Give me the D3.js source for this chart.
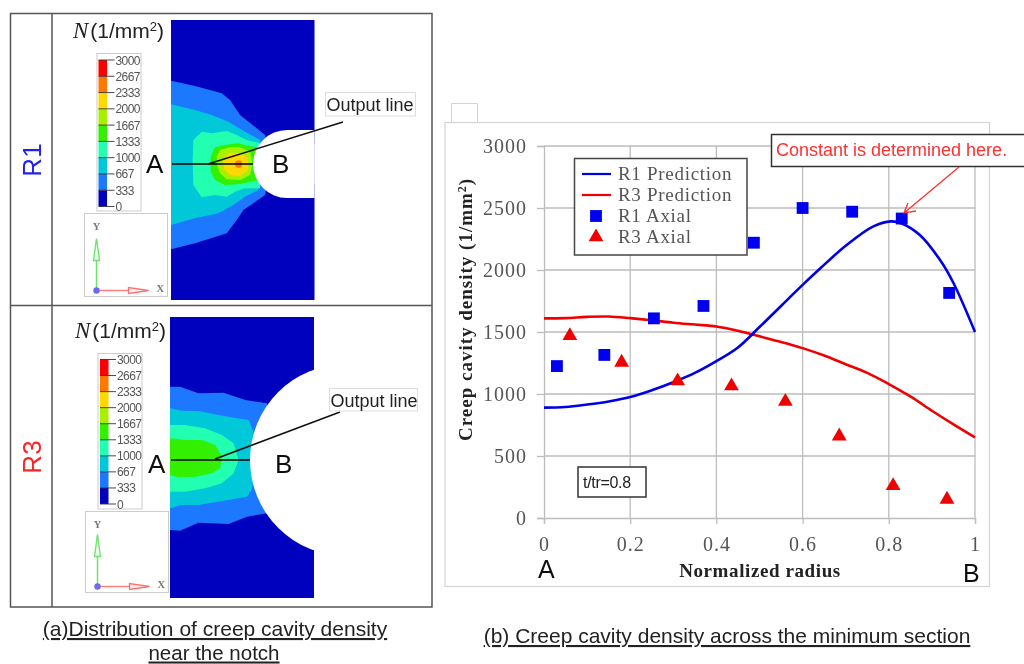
<!DOCTYPE html>
<html>
<head>
<meta charset="utf-8">
<script src="https://cdn.jsdelivr.net/npm/d3@7"></script>
<style>
  html, body { margin: 0; padding: 0; background: #fff; }
  svg { display: block; }
  text { font-family: "Liberation Sans", Arial, sans-serif; }
  .serif { font-family: "Liberation Serif", "Times New Roman", serif; }
</style>
</head>
<body>
<svg id="chart" width="1024" height="664"></svg>
<script>
// Line chart values
const radiusTicks = [0, 0.2, 0.4, 0.6, 0.8, 1];
const densityTicks = [0, 500, 1000, 1500, 2000, 2500, 3000];
const r1PredX = [0, 0.05, 0.1, 0.15, 0.2, 0.25, 0.3, 0.35, 0.4, 0.45, 0.5, 0.55, 0.6, 0.64, 0.7, 0.763, 0.805, 0.83, 0.872, 0.919, 0.95, 1];
const r1PredY = [890, 895, 915, 940, 975, 1030, 1095, 1170, 1265, 1375, 1540, 1710, 1880, 2010, 2195, 2350, 2392, 2375, 2282, 2080, 1895, 1500];
const r3PredX = [0, 0.05, 0.1, 0.15, 0.2, 0.25, 0.3, 0.35, 0.4, 0.45, 0.5, 0.55, 0.6, 0.65, 0.7, 0.75, 0.8, 0.85, 0.9, 0.95, 1];
const r3PredY = [1610, 1612, 1622, 1625, 1612, 1595, 1575, 1560, 1545, 1510, 1465, 1420, 1370, 1310, 1240, 1170, 1080, 980, 865, 755, 650];
const r1AxialX = [0.03, 0.14, 0.255, 0.37, 0.487, 0.6, 0.715, 0.83, 0.94];
const r1AxialY = [1225, 1315, 1610, 1710, 2220, 2500, 2470, 2415, 1815];
const r3AxialX = [0.06, 0.18, 0.31, 0.435, 0.56, 0.685, 0.81, 0.935];
const r3AxialY = [1470, 1255, 1105, 1065, 940, 660, 260, 150];
const legendNames = ["R1 Prediction", "R3 Prediction", "R1 Axial", "R3 Axial"];

// Contour colour key
const levelLabels = ["0", "333", "667", "1000", "1333", "1667", "2000", "2333", "2667", "3000"];
const levelValues = [0, 333, 667, 1000, 1333, 1667, 2000, 2333, 2667, 3000];
const bandColors = ["#0000bf", "#1a78ff", "#00c8d8", "#20ffb0", "#30f000", "#a8f000", "#ffd800", "#ff7800", "#ff0000"];

// Contour outlines in mesh units, one entry per band from 333 upwards
const r1Bands = [
  [[18,62],[90,78],[170,100],[195,120],[225,165],[300,225],[320,312],[300,405],[235,450],[215,480],[185,520],[90,550],[18,568]],
  [[18,133],[90,150],[140,165],[190,185],[240,215],[285,240],[300,312],[280,390],[240,410],[205,435],[160,460],[90,475],[18,495]],
  [[83,300],[85,240],[110,215],[140,220],[185,213],[215,225],[245,240],[285,250],[290,312],[285,385],[240,385],[210,395],[185,410],[150,405],[110,412],[85,375]],
  [[137,312],[137,290],[150,262],[180,255],[220,250],[250,258],[280,262],[280,360],[225,372],[180,375],[150,360],[137,335]],
  [[155,312],[155,290],[165,270],[195,262],[225,262],[255,275],[262,312],[255,345],[225,360],[185,358],[165,340]],
  [[175,312],[175,300],[190,280],[220,278],[245,290],[250,312],[248,330],[225,348],[195,345],[178,328]],
  [[210,312],[212,304],[220,301],[229,304],[231,312],[229,321],[220,324],[212,321]]
];
const r3Bands = [
  [[15,140],[45,140],[100,160],[175,158],[240,180],[305,190],[320,360],[305,520],[245,530],[190,552],[100,548],[45,572],[15,570]],
  [[15,205],[50,212],[100,213],[160,225],[215,235],[250,240],[262,270],[280,360],[258,450],[245,470],[190,480],[100,495],[50,495],[15,505]],
  [[15,255],[60,255],[120,265],[170,285],[205,310],[220,360],[205,400],[170,430],[120,445],[60,455],[15,455]],
  [[15,295],[60,300],[110,300],[150,315],[170,350],[165,385],[140,400],[90,410],[40,412],[15,405]]
];

const svg = d3.select("#chart");

// the source picture is a soft upscaled screenshot
svg.append("filter").attr("id", "soft").attr("x", 0).attr("y", 0).attr("width", "100%").attr("height", "100%")
  .attr("filterUnits", "userSpaceOnUse")
  .append("feGaussianBlur").attr("stdDeviation", 0.6);
const root = svg.append("g").attr("filter", "url(#soft)");
root.append("rect").attr("width", 1024).attr("height", 664).attr("fill", "#fff");

// ---- left table ----
const tableColor = "#555";
root.append("rect").attr("x", 10.5).attr("y", 13.5).attr("width", 421.5).attr("height", 593.5)
  .attr("fill", "none").attr("stroke", tableColor).attr("stroke-width", 1.5);
root.append("line").attr("x1", 52).attr("x2", 52).attr("y1", 13).attr("y2", 607).attr("stroke", tableColor).attr("stroke-width", 1.5);
root.append("line").attr("x1", 10).attr("x2", 432).attr("y1", 305.5).attr("y2", 305.5).attr("stroke", tableColor).attr("stroke-width", 1.5);

function drawPanel(o) {
  const g = root.append("g");
  const x = d3.scaleLinear().domain(o.meshX).range(o.pxX);
  const y = d3.scaleLinear().domain(o.meshY).range(o.pxY);
  const clipId = "clip-" + o.name;

  g.append("clipPath").attr("id", clipId).append("rect")
    .attr("x", o.pxX[0]).attr("y", o.pxY[0])
    .attr("width", o.pxX[1] - o.pxX[0]).attr("height", o.pxY[1] - o.pxY[0]);

  // row label
  g.append("text").attr("transform", `translate(${o.rowX},${o.rowY}) rotate(-90)`)
    .attr("text-anchor", "middle").attr("font-size", 26).attr("fill", o.rowColor).text(o.name);

  // contour plot
  g.append("rect").attr("x", o.pxX[0]).attr("y", o.pxY[0])
    .attr("width", o.pxX[1] - o.pxX[0]).attr("height", o.pxY[1] - o.pxY[0])
    .attr("fill", bandColors[0]);
  const contour = d3.line().x(d => x(d[0])).y(d => y(d[1]));
  g.selectAll(".band").data(o.bands).enter().append("path")
    .attr("class", "band")
    .attr("d", d => contour(d) + "Z")
    .attr("fill", (d, i) => bandColors[i + 1]);

  // notch, white cut-out
  const notch = g.append("g").attr("clip-path", `url(#${clipId})`).attr("fill", "#fff");
  notch.append("circle").attr("cx", x(o.notch[0])).attr("cy", y(o.notch[1]))
    .attr("r", x(o.notch[0] + o.notch[2]) - x(o.notch[0]));
  if (o.name === "R1") {
    notch.append("rect").attr("x", x(o.notch[0])).attr("y", y(o.notch[1] - o.notch[2]))
      .attr("width", 40).attr("height", y(o.notch[1] + o.notch[2]) - y(o.notch[1] - o.notch[2]));
  }

  // section line and leader
  const cy = y(o.notch[1]);
  g.append("line").attr("x1", o.pxX[0] + 1).attr("x2", x(o.notch[0] - o.notch[2])).attr("y1", cy).attr("y2", cy)
    .attr("stroke", "#000").attr("stroke-width", 1.5);
  g.append("line").attr("x1", o.leader[0]).attr("y1", o.leader[1]).attr("x2", o.leader[2]).attr("y2", o.leader[3])
    .attr("stroke", "#111").attr("stroke-width", 1.5);

  g.append("rect").attr("x", o.outBox[0]).attr("y", o.outBox[1]).attr("width", o.outBox[2]).attr("height", o.outBox[3])
    .attr("fill", "#fff").attr("stroke", "#ddd");
  g.append("text").attr("x", o.outBox[0] + 1).attr("y", o.outBox[1] + 18).attr("font-size", 18).attr("fill", "#222").text("Output line");

  g.append("text").attr("x", o.ab[0]).attr("y", o.ab[2]).attr("font-size", 26).attr("fill", "#111").text("A");
  g.append("text").attr("x", o.ab[1]).attr("y", o.ab[2]).attr("font-size", 26).attr("fill", "#111").text("B");

  // N (1/mm2) heading
  const head = g.append("text").attr("x", o.head[0]).attr("y", o.head[1]).attr("font-size", 21).attr("fill", "#222");
  head.append("tspan").attr("class", "serif").attr("font-style", "italic").attr("font-size", 23).text("N");
  head.append("tspan").attr("dx", 2).text("(1/mm");
  head.append("tspan").attr("dy", -7).attr("font-size", 13).text("2");
  head.append("tspan").attr("dy", 7).text(")");

  // colour key
  const key = g.append("g");
  const ky = d3.scaleLinear().domain([0, 3000]).range(o.keyY);
  key.append("rect").attr("x", o.keyBox[0]).attr("y", o.keyBox[1]).attr("width", o.keyBox[2]).attr("height", o.keyBox[3])
    .attr("fill", "#fff").attr("stroke", "#ccc");
  key.selectAll(".swatch").data(bandColors).enter().append("rect")
    .attr("class", "swatch")
    .attr("x", o.keyX).attr("width", 8.5)
    .attr("y", (d, i) => ky(levelValues[i + 1]))
    .attr("height", (d, i) => ky(levelValues[i]) - ky(levelValues[i + 1]))
    .attr("fill", d => d);
  key.selectAll(".tick").data(levelValues).enter().append("line")
    .attr("class", "tick")
    .attr("x1", o.keyX).attr("x2", o.keyX + 16)
    .attr("y1", d => ky(d)).attr("y2", d => ky(d))
    .attr("stroke", "#333").attr("stroke-width", 0.9);
  key.selectAll(".lab").data(levelLabels).enter().append("text")
    .attr("class", "lab")
    .attr("x", o.keyX + 17).attr("y", (d, i) => ky(levelValues[i]) + 4.5)
    .attr("font-size", 12).attr("letter-spacing", -0.6).attr("fill", "#555").text(d => d);

  // axis triad
  const t = g.append("g").attr("transform", `translate(${o.triad[0]},${o.triad[1]})`);
  t.append("rect").attr("x", 0).attr("y", 0).attr("width", 83).attr("height", o.triad[2])
    .attr("fill", "#fff").attr("stroke", "#ccc");
  const oy = o.triad[2] - 6;
  t.append("line").attr("x1", 12).attr("x2", 12).attr("y1", oy).attr("y2", oy - 50).attr("stroke", "#6fe06f").attr("stroke-width", 1.5);
  t.append("path").attr("d", `M12,${oy - 52}L9,${oy - 30}L15,${oy - 30}Z`).attr("fill", "#e6ffe6").attr("stroke", "#6fe06f").attr("stroke-width", 1.3);
  t.append("line").attr("x1", 12).attr("x2", 60).attr("y1", oy).attr("y2", oy).attr("stroke", "#ff8080").attr("stroke-width", 1.5);
  t.append("path").attr("d", `M64,${oy}L44,${oy - 3}L44,${oy + 3}Z`).attr("fill", "#fff0f0").attr("stroke", "#ff7070").attr("stroke-width", 1.3);
  t.append("circle").attr("cx", 12).attr("cy", oy).attr("r", 3.2).attr("fill", "#6a6af0");
  t.append("text").attr("class", "serif").attr("x", 12).attr("y", 16).attr("text-anchor", "middle")
    .attr("font-size", 10.5).attr("font-weight", "bold").attr("fill", "#777").text("Y");
  t.append("text").attr("class", "serif").attr("x", 72).attr("y", oy + 1).attr("font-size", 10.5)
    .attr("font-weight", "bold").attr("fill", "#777").text("X");
}

drawPanel({
  name: "R1", rowColor: "#2222ee", rowX: 41, rowY: 160,
  meshX: [18, 448], meshY: [-120, 720], pxX: [171, 314.5], pxY: [20, 300],
  bands: r1Bands, notch: [366, 312, 102],
  leader: [208, 164, 343, 122], outBox: [325.5, 92.5, 90, 23.5], ab: [146, 272, 172.5], head: [73, 38],
  keyBox: [97, 53.5, 44, 157.5], keyX: 98.5, keyY: [206.5, 60],
  triad: [84.5, 213.5, 83]
});
drawPanel({
  name: "R3", rowColor: "#ff2222", rowX: 41, rowY: 457,
  meshX: [15, 445], meshY: [-69, 774], pxX: [170, 314], pxY: [317, 598],
  bands: r3Bands, notch: [540, 360, 286],
  leader: [215, 459, 340, 412], outBox: [329.5, 388.5, 88, 22.5], ab: [148, 275, 472.5], head: [75, 338],
  keyBox: [98, 353.5, 44, 155.5], keyX: 100, keyY: [504, 359.5],
  triad: [85.5, 511.5, 81]
});

// captions
function caption(txt, cx, base, size) {
  root.append("text").attr("x", cx).attr("y", base).attr("text-anchor", "middle")
    .attr("font-size", size).attr("fill", "#222").attr("text-decoration", "underline").text(txt);
}
caption("(a)Distribution of creep cavity density", 215, 636, 21);
caption("near the notch", 214, 659.5, 20.5);
caption("(b) Creep cavity density across the minimum section", 727, 643, 21);

// ---- right chart ----
const chartFrame = "#d4d4d4";
root.append("path").attr("d", "M451.5,122V103.5H477.5V122").attr("fill", "none").attr("stroke", chartFrame);
root.append("rect").attr("x", 445).attr("y", 122.5).attr("width", 544.5).attr("height", 464)
  .attr("fill", "#fff").attr("stroke", chartFrame).attr("stroke-width", 1.2);

const x = d3.scaleLinear().domain([0, 1]).range([544, 975]);
const y = d3.scaleLinear().domain([0, 3000]).range([518, 146]);
const plot = root.append("g");
const tickColor = "#bdbdbd";

const xAxis = plot.append("g").attr("transform", `translate(0,${y(0)})`)
  .call(d3.axisBottom(x).tickValues(radiusTicks).tickFormat(d3.format("~g")).tickSize(6).tickPadding(13));
const yAxis = plot.append("g").attr("transform", `translate(${x(0)},0)`)
  .call(d3.axisLeft(y).tickValues(densityTicks).tickFormat(d3.format("d")).tickSize(7).tickPadding(10));
[xAxis, yAxis].forEach(a => {
  a.select(".domain").attr("stroke", tickColor).attr("stroke-width", 1.3);
  a.selectAll(".tick line").attr("stroke", tickColor).attr("stroke-width", 1.3);
  a.selectAll(".tick text").attr("class", "serif").attr("font-size", 20).attr("fill", "#555").attr("letter-spacing", 1);
});
plot.selectAll(".grid-x").data(radiusTicks.slice(1)).enter().append("line")
  .attr("class", "grid-x").attr("x1", d => x(d)).attr("x2", d => x(d)).attr("y1", y(3000)).attr("y2", y(0))
  .attr("stroke", tickColor).attr("stroke-width", 1.3);
plot.selectAll(".grid-y").data(densityTicks.slice(1)).enter().append("line")
  .attr("class", "grid-y").attr("x1", x(0)).attr("x2", x(1)).attr("y1", d => y(d)).attr("y2", d => y(d))
  .attr("stroke", tickColor).attr("stroke-width", 1.3);

const line = d3.line().x(d => x(d[0])).y(d => y(d[1])).curve(d3.curveCatmullRom);
plot.append("path").attr("d", line(d3.zip(r3PredX, r3PredY))).attr("fill", "none").attr("stroke", "#f00000").attr("stroke-width", 2.6);
plot.append("path").attr("d", line(d3.zip(r1PredX, r1PredY))).attr("fill", "none").attr("stroke", "#0000e6").attr("stroke-width", 2.6);

const square = d3.symbol().type(d3.symbolSquare).size(140);
const triangle = d3.symbol().type(d3.symbolTriangle).size(95);
plot.selectAll(".r1").data(d3.zip(r1AxialX, r1AxialY)).enter().append("path")
  .attr("class", "r1").attr("d", square).attr("fill", "#0000f0")
  .attr("transform", d => `translate(${x(d[0])},${y(d[1])})`);
plot.selectAll(".r3").data(d3.zip(r3AxialX, r3AxialY)).enter().append("path")
  .attr("class", "r3").attr("d", triangle).attr("fill", "#f00000")
  .attr("transform", d => `translate(${x(d[0])},${y(d[1])})`);

// axis titles
root.append("text").attr("class", "serif").attr("x", 760).attr("y", 577).attr("text-anchor", "middle")
  .attr("font-size", 19).attr("font-weight", "bold").attr("letter-spacing", 0.6).attr("fill", "#222").text("Normalized radius");
const yTitle = root.append("text").attr("class", "serif")
  .attr("transform", "translate(472,441) rotate(-90)")
  .attr("font-size", 19).attr("font-weight", "bold").attr("letter-spacing", 1).attr("fill", "#222");
yTitle.append("tspan").text("Creep cavity density (1/mm");
yTitle.append("tspan").attr("dy", -6).attr("font-size", 12).text("2");
yTitle.append("tspan").attr("dy", 6).text(")");

root.append("text").attr("x", 538).attr("y", 578).attr("font-size", 25).attr("fill", "#111").text("A");
root.append("text").attr("x", 963).attr("y", 582).attr("font-size", 25).attr("fill", "#111").text("B");

// legend
const legend = root.append("g");
legend.append("rect").attr("x", 574.5).attr("y", 158.5).attr("width", 172.5).attr("height", 96.5)
  .attr("fill", "#fff").attr("stroke", "#444").attr("stroke-width", 1.5);
const legendY = d3.scalePoint().domain(legendNames).range([174, 237]);
legend.selectAll("text").data(legendNames).enter().append("text")
  .attr("class", "serif").attr("x", 618).attr("y", d => legendY(d) + 6)
  .attr("font-size", 19).attr("letter-spacing", 0.7).attr("fill", "#555").text(d => d);
[["R1 Prediction", "#0000e6"], ["R3 Prediction", "#f00000"]].forEach(d => {
  legend.append("line").attr("x1", 582).attr("x2", 611).attr("y1", legendY(d[0])).attr("y2", legendY(d[0]))
    .attr("stroke", d[1]).attr("stroke-width", 2.2);
});
legend.append("path").attr("d", square).attr("fill", "#0000f0").attr("transform", `translate(596,${legendY("R1 Axial")})`);
legend.append("path").attr("d", triangle).attr("fill", "#f00000").attr("transform", `translate(596,${legendY("R3 Axial")})`);

// t/tr note
root.append("rect").attr("x", 578).attr("y", 467).attr("width", 68).attr("height", 30)
  .attr("fill", "#fff").attr("stroke", "#333").attr("stroke-width", 1.5);
root.append("text").attr("x", 583).attr("y", 488).attr("font-size", 16).attr("letter-spacing", -0.3).attr("fill", "#222").text("t/tr=0.8");

// callout, its box runs off the right edge
root.append("rect").attr("x", 771.5).attr("y", 134.5).attr("width", 270).attr("height", 32)
  .attr("fill", "#fff").attr("stroke", "#333").attr("stroke-width", 1.5);
root.append("text").attr("x", 776).attr("y", 156).attr("font-size", 18).attr("fill", "#ff3030").text("Constant is determined here.");
root.append("path").attr("d", "M959,167L904,213M908,203L904,213L916,211")
  .attr("fill", "none").attr("stroke", "#ff3030").attr("stroke-width", 1.3);
</script>
</body>
</html>
